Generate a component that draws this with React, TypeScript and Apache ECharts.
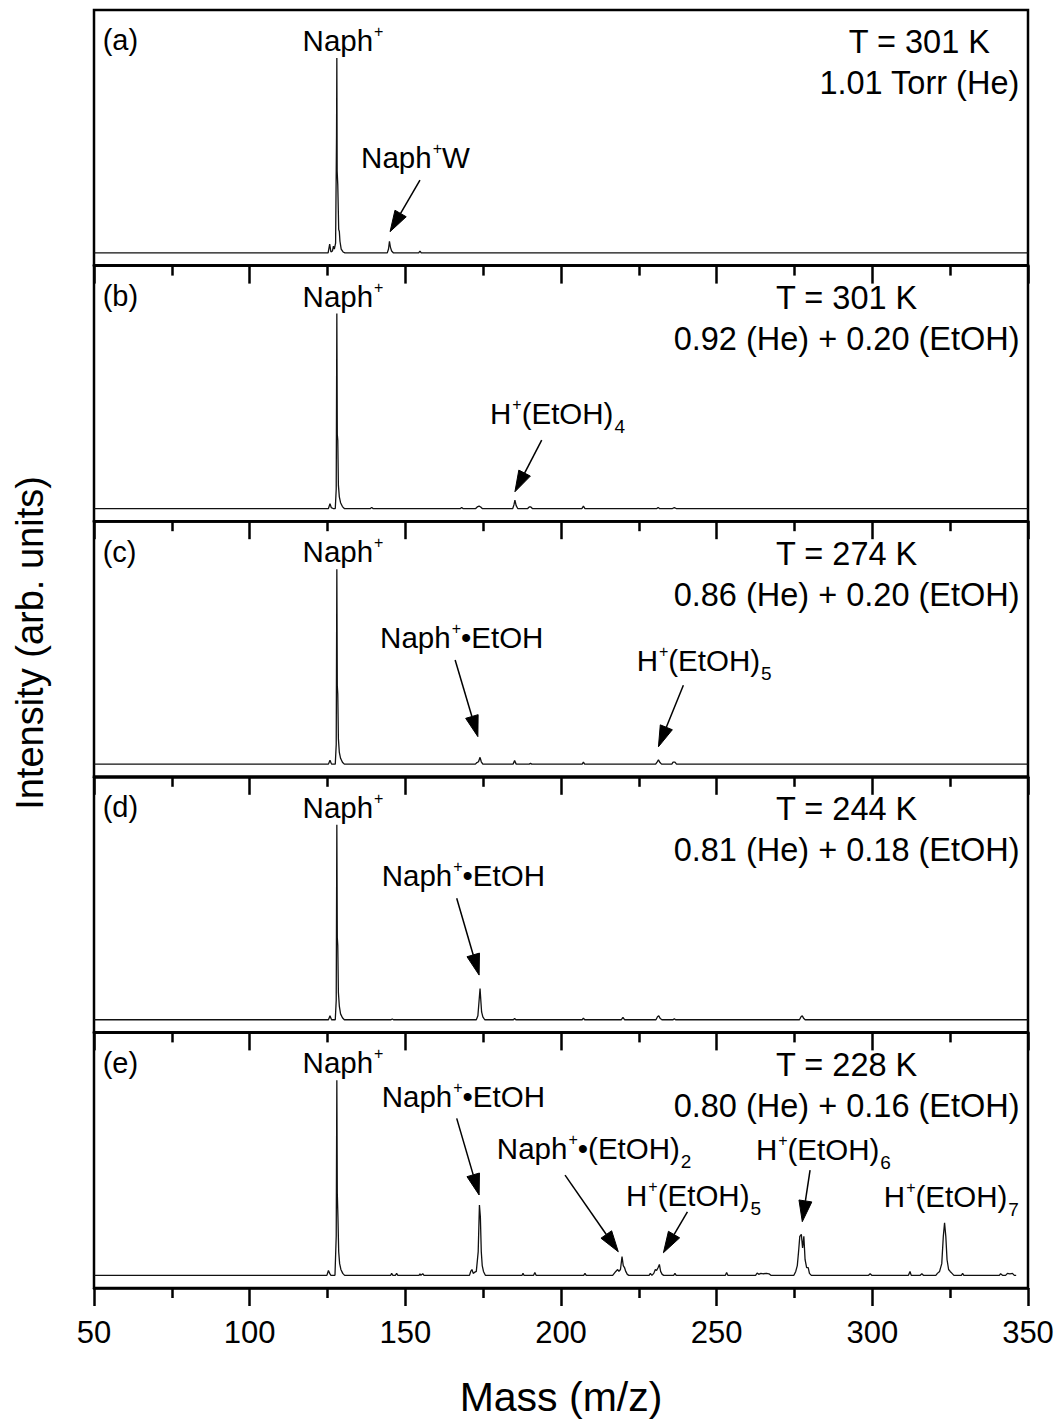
import { useEffect, useRef } from 'react';
import * as echarts from 'echarts';

const FONT = "'Liberation Sans', Arial, Helvetica, sans-serif";

// Layout of the five stacked panels (pixels)
const PANEL_TOP = 10;
const PANEL_H = 255.6;
const GRID_LEFT = 94;
const GRID_RIGHT = 32;

// Shared axis ranges
const MASS_MIN = 50;
const MASS_MAX = 350;
const MASS_STEP = 50;
const Y_MIN = -0.065;
const Y_MAX = 1.246;

const panelLetters = ['(a)', '(b)', '(c)', '(d)', '(e)'];
const temperatures = ['T = 301 K', 'T = 301 K', 'T = 274 K', 'T = 244 K', 'T = 228 K'];
const pressures = [
  '1.01 Torr (He)',
  '0.92 (He) + 0.20 (EtOH)',
  '0.86 (He) + 0.20 (EtOH)',
  '0.81 (He) + 0.18 (EtOH)',
  '0.80 (He) + 0.16 (EtOH)',
];

// Mass spectra: [m/z, normalised intensity]
const spectrumA: [number, number][] = [
  [50, 0], [125.2, 0], [125.7, 0.045], [126.1, 0.005], [126.6, 0.01], [126.9, 0.035], [127.2, 0.02],
  [127.6, 0.05], [127.9, 0.6], [128.0, 1.0], [128.1, 0.42], [128.3, 0.35], [128.6, 0.12], [128.8, 0.11],
  [129.0, 0.06], [129.4, 0.02], [130.0, 0.005], [130.6, 0],
  [144.2, 0], [144.6, 0.02], [144.9, 0.06], [145.2, 0.03], [145.6, 0.01], [146.2, 0],
  [154.3, 0], [154.7, 0.01], [155.1, 0], [350, 0],
];

const spectrumB: [number, number][] = [
  [50, 0], [125.3, 0], [125.8, 0.025], [126.2, 0.005], [126.8, 0], [127.5, 0], [127.8, 0.1], [128.0, 1.0],
  [128.15, 0.38], [128.3, 0.35], [128.5, 0.12], [128.8, 0.06], [129.2, 0.03], [129.8, 0.01], [130.4, 0],
  [138.8, 0], [139.2, 0.006], [139.6, 0],
  [167.7, 0], [168.1, 0.005], [168.5, 0],
  [172.6, 0], [173.1, 0.008], [173.7, 0.012], [174.2, 0.008], [174.7, 0],
  [184.5, 0], [184.9, 0.02], [185.2, 0.043], [185.6, 0.015], [186.1, 0],
  [189.3, 0], [189.8, 0.008], [190.3, 0.008], [190.8, 0],
  [206.7, 0], [207.2, 0.012], [207.7, 0],
  [230.8, 0], [231.2, 0.006], [231.6, 0],
  [235.8, 0], [236.4, 0.005], [237.0, 0],
  [350, 0],
];

const spectrumC: [number, number][] = [
  [50, 0], [125.3, 0], [125.8, 0.02], [126.3, 0], [127.5, 0], [127.8, 0.1], [128.0, 1.0],
  [128.15, 0.4], [128.3, 0.36], [128.5, 0.13], [128.8, 0.06], [129.2, 0.03], [129.8, 0.01], [130.4, 0],
  [172.5, 0], [173.0, 0.008], [173.5, 0.012], [174.0, 0.035], [174.4, 0.012], [174.9, 0],
  [184.6, 0], [185.1, 0.018], [185.6, 0],
  [189.8, 0], [190.2, 0.004], [190.6, 0],
  [206.8, 0], [207.2, 0.01], [207.6, 0],
  [230.4, 0], [230.9, 0.012], [231.3, 0.022], [231.8, 0.008], [232.3, 0],
  [235.6, 0], [236.0, 0.01], [236.6, 0.01], [237.1, 0],
  [350, 0],
];

const spectrumD: [number, number][] = [
  [50, 0], [125.3, 0], [125.8, 0.02], [126.3, 0], [127.5, 0], [127.8, 0.1], [128.0, 1.0],
  [128.15, 0.42], [128.3, 0.38], [128.5, 0.14], [128.8, 0.07], [129.2, 0.03], [129.8, 0.01], [130.4, 0],
  [145.4, 0], [145.8, 0.004], [146.2, 0],
  [172.8, 0], [173.3, 0.02], [173.7, 0.1], [174.0, 0.16], [174.2, 0.11], [174.5, 0.04], [174.9, 0.015], [175.5, 0],
  [184.7, 0], [185.1, 0.006], [185.5, 0],
  [206.8, 0], [207.2, 0.008], [207.6, 0],
  [219.4, 0], [219.9, 0.012], [220.4, 0],
  [230.5, 0], [231.0, 0.015], [231.4, 0.02], [231.9, 0.006], [232.4, 0],
  [236.0, 0], [236.4, 0.005], [236.8, 0],
  [276.6, 0], [277.1, 0.015], [277.5, 0.02], [278.0, 0.006], [278.4, 0],
  [350, 0],
];

const spectrumE: [number, number][] = [
  [50, 0], [124.8, 0], [125.3, 0.025], [125.7, 0.01], [126.1, 0], [127.4, 0], [127.8, 0.2], [128.0, 1.0],
  [128.15, 0.42], [128.35, 0.3], [128.6, 0.12], [128.9, 0.06], [129.3, 0.03], [129.9, 0.01], [130.5, 0],
  [145.3, 0], [145.6, 0.01], [146.0, 0], [146.8, 0], [147.2, 0.01], [147.6, 0],
  [154.4, 0], [154.7, 0.008], [155.0, 0], [155.6, 0.008], [156.0, 0],
  [170.6, 0], [171.0, 0.02], [171.4, 0.03], [171.8, 0.01], [172.2, 0.015], [172.8, 0.02], [173.4, 0.12],
  [173.8, 0.36], [174.1, 0.3], [174.4, 0.12], [174.7, 0.05], [175.1, 0.02], [175.7, 0],
  [187.5, 0], [187.8, 0.01], [188.1, 0],
  [191.2, 0], [191.6, 0.015], [192.0, 0],
  [207.3, 0], [207.7, 0.01], [208.1, 0],
  [216.6, 0], [217.1, 0.01], [217.6, 0.02], [218.2, 0.03], [218.6, 0.02], [219.1, 0.03], [219.6, 0.096],
  [220.0, 0.05], [220.4, 0.04], [220.8, 0.02], [221.3, 0.005], [221.8, 0],
  [228.3, 0], [228.7, 0.01], [229.2, 0], [229.8, 0.01], [230.3, 0.03], [230.7, 0.025], [231.2, 0.04],
  [231.6, 0.056], [232.0, 0.02], [232.5, 0.005], [233.0, 0],
  [236.2, 0], [236.6, 0.01], [237.0, 0],
  [252.8, 0], [253.2, 0.015], [253.6, 0],
  [262.5, 0], [263.0, 0.012], [263.5, 0.005], [264.2, 0.01], [265.0, 0.008], [266.0, 0.01], [266.8, 0.008], [267.4, 0],
  [274.8, 0], [275.4, 0.02], [275.9, 0.05], [276.3, 0.12], [276.7, 0.2], [277.2, 0.21], [277.6, 0.14],
  [278.0, 0.2], [278.4, 0.08], [278.9, 0.04], [279.4, 0.04], [279.8, 0.01], [280.4, 0],
  [298.8, 0], [299.3, 0.008], [299.8, 0],
  [311.6, 0], [312.1, 0.02], [312.5, 0],
  [315.4, 0], [315.9, 0.008], [316.4, 0],
  [320.4, 0], [320.9, 0.01], [321.6, 0.02], [322.3, 0.06], [322.8, 0.2], [323.2, 0.27], [323.6, 0.2],
  [324.0, 0.08], [324.5, 0.03], [325.0, 0.02], [325.6, 0.01], [326.2, 0],
  [328.6, 0], [329.0, 0.01], [329.4, 0],
  [340.8, 0], [341.2, 0.008], [341.8, 0], [342.8, 0], [343.4, 0.01], [344.2, 0.008], [345.0, 0.01], [345.6, 0], [346.2, 0],
];

const spectra = [spectrumA, spectrumB, spectrumC, spectrumD, spectrumE];

// Peak assignments: label anchor (left edge, text middle) and optional arrow (from -> tip), in data units
type PeakNote = { text: string; at: [number, number]; from?: [number, number]; to?: [number, number] };

const notesA: PeakNote[] = [
  { text: 'Naph{sup|+}', at: [117.0, 1.09] },
  { text: 'Naph{sup|+}W', at: [135.8, 0.487], from: [154.7, 0.374], to: [145.1, 0.109] },
];
const notesB: PeakNote[] = [
  { text: 'Naph{sup|+}', at: [117.0, 1.09] },
  { text: 'H{sup|+}(EtOH){sub|4}', at: [177.2, 0.485], from: [193.8, 0.351], to: [185.2, 0.086] },
];
const notesC: PeakNote[] = [
  { text: 'Naph{sup|+}', at: [117.0, 1.09] },
  { text: 'Naph{sup|+}•EtOH', at: [141.9, 0.649], from: [166.0, 0.534], to: [173.3, 0.141] },
  { text: 'H{sup|+}(EtOH){sub|5}', at: [224.3, 0.529], from: [239.3, 0.405], to: [231.3, 0.089] },
];
const notesD: PeakNote[] = [
  { text: 'Naph{sup|+}', at: [117.0, 1.09] },
  { text: 'Naph{sup|+}•EtOH', at: [142.4, 0.742], from: [166.5, 0.623], to: [173.7, 0.229] },
];
const notesE: PeakNote[] = [
  { text: 'Naph{sup|+}', at: [117.0, 1.09] },
  { text: 'Naph{sup|+}•EtOH', at: [142.4, 0.919], from: [166.5, 0.805], to: [173.7, 0.412] },
  { text: 'Naph{sup|+}•(EtOH){sub|2}', at: [179.4, 0.653], from: [201.3, 0.514], to: [218.4, 0.121] },
  { text: 'H{sup|+}(EtOH){sub|5}', at: [220.9, 0.412], from: [240.6, 0.326], to: [232.9, 0.116] },
  { text: 'H{sup|+}(EtOH){sub|6}', at: [262.6, 0.643], from: [280.0, 0.54], to: [277.5, 0.275] },
  { text: 'H{sup|+}(EtOH){sub|7}', at: [303.7, 0.402] },
];
const peakNotes = [notesA, notesB, notesC, notesD, notesE];

// Panel letter and run-condition anchors (data units)
const letterAt: [number, number] = [52.8, 1.09];
const conditionRight = 347.3;
const conditionLines = [1.08, 0.87];

const LABEL_SIZE = 29.5;
const COND_SIZE = 32.5;
const LETTER_SIZE = 29;

// Superscript raised and subscript lowered around the label's centre line
const richStyles = {
  sup: { fontSize: 16, fontFamily: FONT, fill: '#000', verticalAlign: 'middle', padding: [0, 0, 18, 1] },
  sub: { fontSize: 19, fontFamily: FONT, fill: '#000', verticalAlign: 'middle', padding: [26, 0, 0, 1] },
};

function measure(text: string, size: number): number {
  const ctx = document.createElement('canvas').getContext('2d');
  if (!ctx) return text.length * size * 0.5;
  ctx.font = `${size}px ${FONT}`;
  return ctx.measureText(text).width;
}

export default function App() {
  const ref = useRef<HTMLDivElement>(null);

  useEffect(() => {
    document.body.style.margin = '0';
    if (!ref.current) return;
    const chart = echarts.init(ref.current, null, { renderer: 'svg' });
    const last = spectra.length - 1;

    const grid = spectra.map((_, i) => ({
      left: GRID_LEFT,
      right: GRID_RIGHT,
      top: PANEL_TOP + i * PANEL_H,
      height: PANEL_H,
      show: true,
      borderColor: '#000',
      borderWidth: 2.5,
      backgroundColor: 'transparent',
    }));

    const xAxis = spectra.map((_, i) => ({
      type: 'value',
      gridIndex: i,
      min: MASS_MIN,
      max: MASS_MAX,
      interval: MASS_STEP,
      axisLine: { show: true, onZero: false, lineStyle: { color: '#000', width: 2.5 } },
      axisTick: { show: true, inside: false, length: 18, lineStyle: { color: '#000', width: 2.5 } },
      minorTick: { show: true, splitNumber: 2, length: 10, lineStyle: { color: '#000', width: 2.5 } },
      splitLine: { show: false },
      minorSplitLine: { show: false },
      axisLabel: {
        show: i === last,
        fontSize: 31,
        fontFamily: FONT,
        color: '#000',
        margin: 29,
      },
    }));

    const yAxis = spectra.map((_, i) => ({
      type: 'value',
      gridIndex: i,
      min: Y_MIN,
      max: Y_MAX,
      show: false,
      splitLine: { show: false },
    }));

    const series = spectra.map((data, i) => ({
      type: 'line',
      xAxisIndex: i,
      yAxisIndex: i,
      data,
      symbol: 'none',
      showSymbol: false,
      lineStyle: { color: '#111', width: 1.3 },
      z: 3,
    }));

    chart.setOption({
      animation: false,
      backgroundColor: '#fff',
      grid,
      xAxis,
      yAxis,
      series,
    });

    const graphics: any[] = [];
    const HEAD_LEN = 21;
    const HEAD_HALF = 6.5;

    spectra.forEach((_, i) => {
      const px = (p: [number, number]) => chart.convertToPixel({ gridIndex: i }, p) as number[];

      const lp = px(letterAt);
      graphics.push({
        type: 'text', x: lp[0], y: lp[1], z: 10,
        style: { text: panelLetters[i], fontSize: LETTER_SIZE, fontFamily: FONT, fill: '#000', align: 'left', verticalAlign: 'middle' },
      });

      const w2 = measure(pressures[i], COND_SIZE);
      const rightPx = px([conditionRight, 0])[0];
      const cx = rightPx - w2 / 2;
      [temperatures[i], pressures[i]].forEach((t, k) => {
        const yy = px([conditionRight, conditionLines[k]])[1];
        graphics.push({
          type: 'text', x: cx, y: yy, z: 10,
          style: { text: t, fontSize: COND_SIZE, fontFamily: FONT, fill: '#000', align: 'center', verticalAlign: 'middle' },
        });
      });

      peakNotes[i].forEach((n) => {
        const tp = px(n.at);
        graphics.push({
          type: 'text', x: tp[0], y: tp[1], z: 10,
          style: {
            text: n.text,
            fontSize: LABEL_SIZE,
            fontFamily: FONT,
            fill: '#000',
            align: 'left',
            verticalAlign: 'middle',
            rich: richStyles,
          },
        });
        if (n.from && n.to) {
          const a = px(n.from);
          const b = px(n.to);
          const dx = b[0] - a[0];
          const dy = b[1] - a[1];
          const len = Math.hypot(dx, dy);
          const ux = dx / len;
          const uy = dy / len;
          const bx = b[0] - ux * HEAD_LEN;
          const by = b[1] - uy * HEAD_LEN;
          graphics.push({
            type: 'line', z: 10,
            shape: { x1: a[0], y1: a[1], x2: bx, y2: by },
            style: { stroke: '#000', lineWidth: 1.5 },
          });
          graphics.push({
            type: 'polygon', z: 10,
            shape: {
              points: [
                [b[0], b[1]],
                [bx - uy * HEAD_HALF, by + ux * HEAD_HALF],
                [bx + uy * HEAD_HALF, by - ux * HEAD_HALF],
              ],
            },
            style: { fill: '#000', stroke: '#000', lineWidth: 1 },
          });
        }
      });
    });

    graphics.push({
      type: 'text', x: 561, y: 1397, z: 10,
      style: { text: 'Mass (m/z)', fontSize: 41, fontFamily: FONT, fill: '#000', align: 'center', verticalAlign: 'middle' },
    });
    graphics.push({
      type: 'text', x: 30, y: 643, rotation: Math.PI / 2, z: 10,
      style: { text: 'Intensity (arb. units)', fontSize: 38, fontFamily: FONT, fill: '#000', align: 'center', verticalAlign: 'middle' },
    });

    chart.setOption({ graphic: graphics });

    return () => chart.dispose();
  }, []);

  return <div ref={ref} style={{ width: 1060, height: 1420 }} />;
}
